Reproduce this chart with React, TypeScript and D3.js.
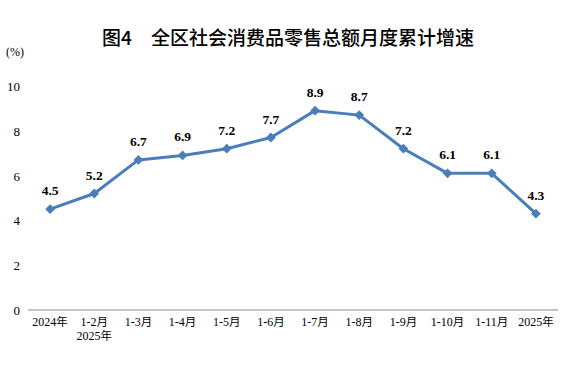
import React from "react";
import * as d3 from "d3";

const categories = ["2024年", "1-2月", "1-3月", "1-4月", "1-5月", "1-6月", "1-7月", "1-8月", "1-9月", "1-10月", "1-11月", "2025年"];
const subLabels = ["", "2025年", "", "", "", "", "", "", "", "", "", ""];
const values = [4.5, 5.2, 6.7, 6.9, 7.2, 7.7, 8.9, 8.7, 7.2, 6.1, 6.1, 4.3];
const yTicks = [0, 2, 4, 6, 8, 10];
const title = "图4　全区社会消费品零售总额月度累计增速";
const unit = "(%)";

export default function App() {
  const W = 576, H = 366;
  const x = d3.scaleBand<string>().domain(categories).range([28, 558]);
  const y = d3.scaleLinear().domain([0, 10]).range([310, 86]);
  const line = d3.line<number>()
    .x((_, i) => (x(categories[i]) as number) + x.bandwidth() / 2)
    .y((d) => y(d));
  const diamond = d3.symbol().type(d3.symbolSquare).size(48)();
  const serif = "'Liberation Serif', 'Times New Roman', serif";
  const cjk = "'Noto Sans CJK SC', sans-serif";
  return (
    <svg width={W} height={H} style={{ position: "absolute", left: 0, top: 0, background: "#fff" }}>
      <text x={288} y={45} textAnchor="middle" fontFamily={cjk} fontSize={19} fontWeight={500} fill="#000">{title}</text>
      <text x={6} y={56} fontFamily={serif} fontSize={12} fill="#000">{unit}</text>
      {yTicks.map((t) => (
        <text key={t} x={20} y={y(t) + 5} textAnchor="end" fontFamily={serif} fontSize={13} fill="#000">{t}</text>
      ))}
      <line x1={28} x2={558} y1={y(0)} y2={y(0)} stroke="#888" strokeWidth={1} />
      {categories.map((c, i) => {
        const cx = (x(c) as number) + x.bandwidth() / 2;
        return (
          <g key={c}>
            <text x={cx} y={326} textAnchor="middle" fontFamily={serif} fontSize={12} fill="#000">
              {c.replace(/月|年/, "")}<tspan fontFamily={cjk} fontSize={11.5}>{c.match(/月|年/)?.[0]}</tspan>
            </text>
            {subLabels[i] && (
              <text x={cx} y={340} textAnchor="middle" fontFamily={serif} fontSize={12} fill="#000">
                {subLabels[i].replace(/年/, "")}<tspan fontFamily={cjk} fontSize={11.5}>年</tspan>
              </text>
            )}
          </g>
        );
      })}
      <path d={line(values) || ""} fill="none" stroke="#4a7ebb" strokeWidth={3} strokeLinejoin="round" />
      {values.map((v, i) => {
        const cx = (x(categories[i]) as number) + x.bandwidth() / 2;
        return (
          <g key={i}>
            <path d={diamond || ""} transform={`translate(${cx},${y(v)}) rotate(45)`} fill="#4a7ebb" />
            <text x={cx} y={y(v) - 14} textAnchor="middle" fontFamily={serif} fontSize={13.5} fontWeight="bold" fill="#000">{v.toFixed(1)}</text>
          </g>
        );
      })}
    </svg>
  );
}
